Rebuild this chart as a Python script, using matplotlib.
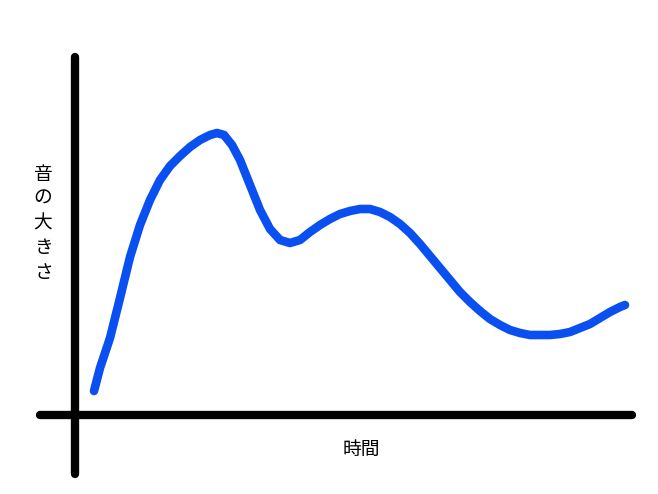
import matplotlib
matplotlib.use("Agg")
import matplotlib.pyplot as plt

plt.rcParams['font.family'] = ['Noto Sans CJK JP', 'DejaVu Sans']

# hand-drawn curve (pixel coords, y down)
curve_x = [94, 100, 110, 120, 130, 140, 150, 160, 170, 180, 190, 200, 210, 217,
           224, 232, 240, 250, 260, 270, 280, 290, 300, 310, 320, 330, 340, 350,
           360, 370, 380, 390, 400, 410, 420, 430, 440, 450, 460, 470, 480, 490,
           500, 510, 520, 530, 540, 550, 560, 570, 580, 590, 600, 610, 620, 625]
curve_y = [391, 368, 338, 298, 257, 225, 200, 180, 166, 156, 147, 140, 135, 133,
           135, 145, 160, 185, 210, 229, 240, 243, 240, 232, 225, 219, 214, 211,
           209, 209, 212, 217, 224, 233, 244, 256, 268, 280, 292, 302, 311, 319,
           325, 330, 333, 335, 335, 335, 334, 332, 328, 324, 318, 312, 307, 305]

ylabel_chars = ["音", "の", "大", "き", "さ"]
xlabel = "時間"

fig = plt.figure(figsize=(6.58, 4.94), dpi=100)
ax = fig.add_axes([0, 0, 1, 1])
ax.set_xlim(0, 658)
ax.set_ylim(494, 0)
ax.axis("off")

# axes drawn as thick black strokes
ax.plot([75, 75], [57, 474], color="black", lw=6, solid_capstyle="round")
ax.plot([40, 632], [415, 415], color="black", lw=6, solid_capstyle="round")

ax.plot(curve_x, curve_y, color="#0a50f0", lw=6.2, solid_capstyle="round",
        solid_joinstyle="round")

for i, ch in enumerate(ylabel_chars):
    ax.text(43, 174 + i * 24.5, ch, fontsize=13.5, ha="center", va="center")

ax.text(361, 449, xlabel, fontsize=13.5, ha="center", va="center")

fig.savefig("out.png", dpi=100)
